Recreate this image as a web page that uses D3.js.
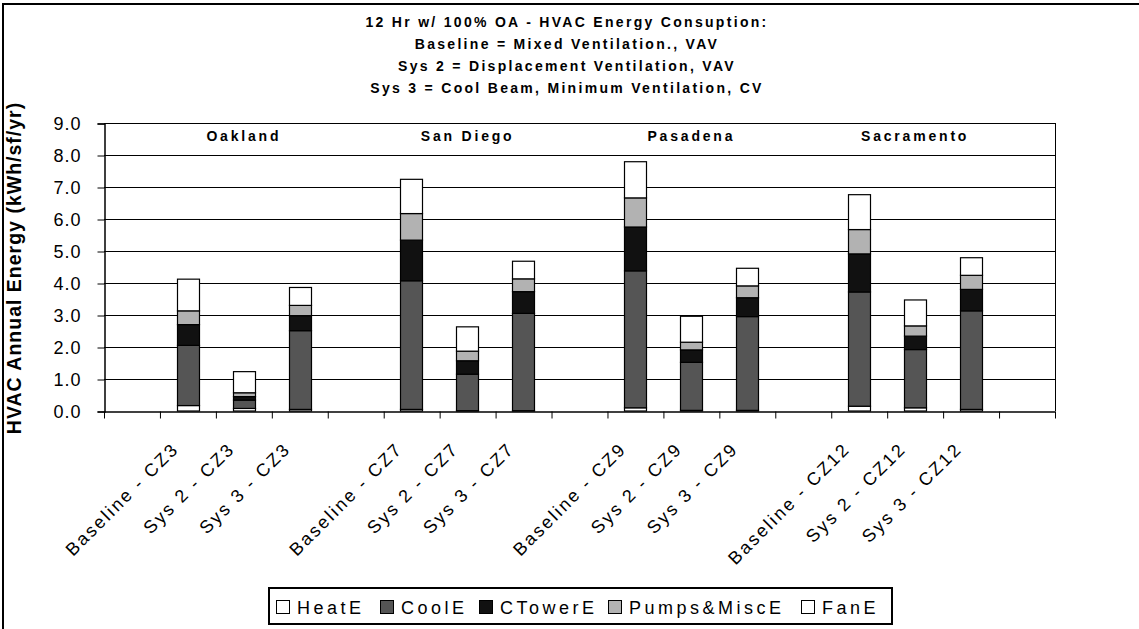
<!DOCTYPE html>
<html>
<head>
<meta charset="utf-8">
<script src="https://cdn.jsdelivr.net/npm/d3@7"></script>
<style>
  body { margin: 0; background: #fff; }
  svg { display: block; font-family: "Liberation Sans", Arial, sans-serif; }
</style>
</head>
<body>
<svg id="chart" width="1139" height="629"></svg>
<script>
// category slots along the x axis (empty slots are the gaps between cities)
var categories = ["", "Baseline - CZ3", "Sys 2 - CZ3", "Sys 3 - CZ3",
                  "", "Baseline - CZ7", "Sys 2 - CZ7", "Sys 3 - CZ7",
                  "", "Baseline - CZ9", "Sys 2 - CZ9", "Sys 3 - CZ9",
                  "", "Baseline - CZ12", "Sys 2 - CZ12", "Sys 3 - CZ12", ""]
var cities = ["Oakland", "San Diego", "Pasadena", "Sacramento"]
var cityCenters = [2, 6, 10, 14]   // slot the city name sits over

// values for the 12 bars, in order
var heatE   = [0.17, 0.08, 0.05, 0.05, 0.01, 0.01, 0.10, 0.02, 0.02, 0.15, 0.10, 0.05]
var coolE   = [1.88, 0.26, 2.46, 4.02, 1.14, 3.04, 4.28, 1.50, 2.93, 3.57, 1.82, 3.08]
var ctowerE = [0.65, 0.11, 0.47, 1.27, 0.42, 0.68, 1.37, 0.39, 0.59, 1.19, 0.42, 0.67]
var pumpsE  = [0.43, 0.12, 0.32, 0.83, 0.30, 0.40, 0.91, 0.24, 0.37, 0.76, 0.32, 0.44]
var fanE    = [0.99, 0.66, 0.56, 1.07, 0.76, 0.55, 1.13, 0.81, 0.55, 1.09, 0.81, 0.55]

var seriesNames = ["HeatE", "CoolE", "CTowerE", "Pumps&MiscE", "FanE"]
var seriesColors = ["#ffffff", "#555555", "#111111", "#b2b2b2", "#ffffff"]
var yTicks = [0, 1, 2, 3, 4, 5, 6, 7, 8, 9]

var titleLines = ["12 Hr w/ 100% OA - HVAC Energy Consuption:",
                  "Baseline = Mixed Ventilation., VAV",
                  "Sys 2 = Displacement Ventilation, VAV",
                  "Sys 3 = Cool Beam, Minimum Ventilation, CV"]

var svg = d3.select("#chart")
var plotL = 104, plotR = 1055, plotT = 123, plotB = 411

// outer chart frame (only top and left visible)
svg.append("path")
    .attr("d", "M3,629V4H1139")
    .attr("fill", "none")
    .attr("stroke", "#000")
    .attr("stroke-width", 2)

var x = d3.scaleBand()
    .domain(d3.range(categories.length))
    .range([plotL, plotR])
var xEdge = d3.scaleLinear().domain([0, categories.length]).range([plotL, plotR])
var y = d3.scaleLinear().domain([0, 9]).range([plotB, plotT])

// build rows for the bars
var slots = []
categories.forEach(function(c, i) { if (c !== "") slots.push(i) })
var rows = slots.map(function(s, i) {
  return {slot: s, "HeatE": heatE[i], "CoolE": coolE[i], "CTowerE": ctowerE[i],
          "Pumps&MiscE": pumpsE[i], "FanE": fanE[i]}
})
var stacked = d3.stack().keys(seriesNames)(rows)

// gridlines
svg.append("g").selectAll("line")
    .data(yTicks.slice(1))
  .enter().append("line")
    .attr("x1", plotL).attr("x2", plotR)
    .attr("y1", function(d) { return Math.round(y(d)) + 0.5 })
    .attr("y2", function(d) { return Math.round(y(d)) + 0.5 })
    .attr("stroke", "#000")

// right border of plot
svg.append("line")
    .attr("x1", plotR + 0.5).attr("x2", plotR + 0.5)
    .attr("y1", plotT).attr("y2", plotB)
    .attr("stroke", "#000")

// bars
var bw = x.bandwidth() * 0.4
svg.append("g").selectAll("g")
    .data(stacked)
  .enter().append("g")
    .attr("fill", function(d, i) { return seriesColors[i] })
  .selectAll("rect")
    .data(function(d) { return d })
  .enter().append("rect")
    .attr("x", function(d) { return Math.round(x(d.data.slot) + (x.bandwidth() - bw) / 2) + 0.5 })
    .attr("width", Math.round(bw))
    .attr("y", function(d) { return y(d[1]) })
    .attr("height", function(d) { return y(d[0]) - y(d[1]) })
    .attr("stroke", "#000")
    .attr("stroke-width", 1.2)

// y axis
var yAxis = svg.append("g")
    .attr("transform", "translate(" + (plotL + 0.5) + ",0.5)")
    .call(d3.axisLeft(y).tickValues(yTicks).tickFormat(d3.format(".1f")).tickSize(7))
yAxis.select(".domain").attr("stroke", "#000").attr("stroke-width", 1.5)
yAxis.selectAll(".tick line").attr("stroke", "#000")
yAxis.selectAll("text")
    .attr("x", -23)
    .attr("font-size", 18)
    .attr("letter-spacing", 1)
    .attr("fill", "#000")
    .attr("font-family", "Liberation Sans, Arial, sans-serif")

// x axis with ticks at category edges
var xAxis = svg.append("g")
    .attr("transform", "translate(0," + (plotB + 0.5) + ")")
    .call(d3.axisBottom(xEdge).tickValues(d3.range(categories.length + 1)).tickFormat("").tickSize(7).tickSizeOuter(0))
xAxis.select(".domain").attr("stroke", "#000").attr("stroke-width", 1.5)
xAxis.selectAll(".tick line").attr("stroke", "#000")

// rotated category labels
svg.append("g").selectAll("text")
    .data(slots)
  .enter().append("text")
    .attr("transform", function(s) {
      return "translate(" + (x(s) + x.bandwidth() / 2 - 8) + ",450) rotate(-45)"
    })
    .attr("text-anchor", "end")
    .attr("font-size", 18)
    .attr("letter-spacing", 2.3)
    .text(function(s) { return categories[s] })

// city names inside plot
svg.append("g").selectAll("text")
    .data(cities)
  .enter().append("text")
    .attr("x", function(d, i) { return x(cityCenters[i]) + x.bandwidth() / 2 })
    .attr("y", 141)
    .attr("text-anchor", "middle")
    .attr("font-size", 14)
    .attr("font-weight", "bold")
    .attr("letter-spacing", 2.8)
    .text(function(d) { return d })

// title
svg.append("g").selectAll("text")
    .data(titleLines)
  .enter().append("text")
    .attr("x", 567)
    .attr("y", function(d, i) { return 27 + i * 22 })
    .attr("text-anchor", "middle")
    .attr("font-size", 14)
    .attr("font-weight", "bold")
    .attr("letter-spacing", 2.3)
    .text(function(d) { return d })

// y axis title
svg.append("text")
    .attr("transform", "translate(21,268) rotate(-90)")
    .attr("text-anchor", "middle")
    .attr("font-size", 19.5)
    .attr("font-weight", "bold")
    .attr("letter-spacing", 1)
    .text("HVAC Annual Energy (kWh/sf/yr)")

// legend
var legendX = [276, 380, 479, 608, 801]
svg.append("rect")
    .attr("x", 269).attr("y", 588)
    .attr("width", 623).attr("height", 36)
    .attr("fill", "#fff")
    .attr("stroke", "#000")
    .attr("stroke-width", 2)
var li = svg.append("g").selectAll("g")
    .data(seriesNames)
  .enter().append("g")
    .attr("transform", function(d, i) { return "translate(" + legendX[i] + ",600)" })
li.append("rect")
    .attr("x", 0.5).attr("y", 0.5)
    .attr("width", 13).attr("height", 13)
    .attr("fill", function(d, i) { return seriesColors[i] })
    .attr("stroke", "#000")
li.append("text")
    .attr("x", 21)
    .attr("y", 14)
    .attr("font-size", 18)
    .attr("letter-spacing", 3.5)
    .text(function(d) { return d })
</script>
</body>
</html>
